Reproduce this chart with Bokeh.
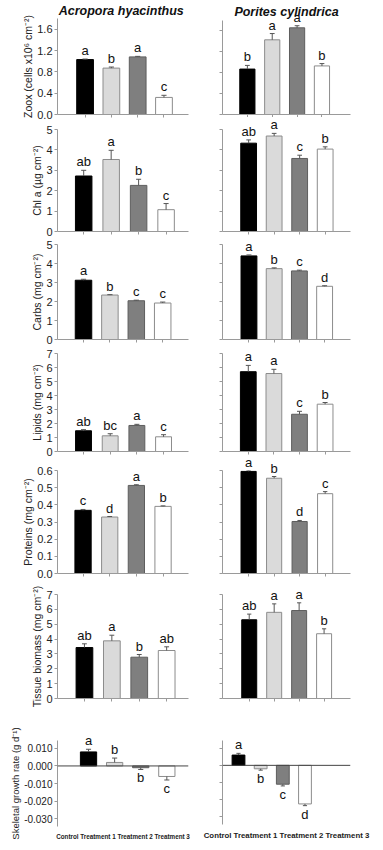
from bokeh.plotting import figure
from bokeh.layouts import column, row
from bokeh.models import (FixedTicker, NumeralTickFormatter, Span, ColumnDataSource, Range1d,
                          CustomLabelingPolicy)
from bokeh.core.properties import value
from bokeh.embed import file_html
from bokeh.resources import INLINE

# ---------------- data ----------------
treatments = ["Control", "Treatment 1", "Treatment 2", "Treatment 3"]
species = ["Acropora  hyacinthus", "Porites cylindrica"]
bar_fill = ["#000000", "#dadada", "#7f7f7f", "#ffffff"]
bar_line = ["#000000", "#8c8c8c", "#5e5e5e", "#8c8c8c"]

y_labels = ["Zoox (cells x10\u2076 cm\u207b\u00b2)", "Chl a (\u00b5g cm\u207b\u00b2)", "Carbs (mg cm\u207b\u00b2)",
            "Lipids (mg cm\u207b\u00b2)", "Proteins (mg cm\u207b\u00b2)", "Tissue biomass (mg cm\u207b\u00b2)",
            "Skeletal growth rate (g d\u207b\u00b9)"]

zoox_acro = [1.03, 0.87, 1.08, 0.32]
zoox_acro_err = [0.01, 0.02, 0.01, 0.04]
zoox_acro_let = ["a", "b", "a", "c"]
zoox_pori = [0.87, 1.43, 1.66, 0.93]
zoox_pori_err = [0.07, 0.12, 0.04, 0.045]
zoox_pori_let = ["b", "a", "a", "b"]

chl_acro = [2.72, 3.53, 2.26, 1.07]
chl_acro_err = [0.28, 0.45, 0.30, 0.30]
chl_acro_let = ["ab", "a", "b", "c"]
chl_pori = [4.33, 4.68, 3.58, 4.04]
chl_pori_err = [0.16, 0.13, 0.16, 0.11]
chl_pori_let = ["ab", "a", "c", "b"]

carbs_acro = [3.12, 2.34, 2.04, 1.92]
carbs_acro_err = [0.05, 0.02, 0.03, 0.05]
carbs_acro_let = ["a", "b", "c", "c"]
carbs_pori = [4.40, 3.73, 3.61, 2.80]
carbs_pori_err = [0.05, 0.04, 0.04, 0.03]
carbs_pori_let = ["a", "b", "c", "d"]

lipids_acro = [1.48, 1.12, 1.86, 1.05]
lipids_acro_err = [0.08, 0.15, 0.08, 0.15]
lipids_acro_let = ["ab", "bc", "a", "c"]
lipids_pori = [5.70, 5.57, 2.66, 3.38]
lipids_pori_err = [0.45, 0.30, 0.21, 0.12]
lipids_pori_let = ["a", "a", "c", "b"]

prot_acro = [0.368, 0.329, 0.513, 0.391]
prot_acro_err = [0.005, 0.003, 0.004, 0.003]
prot_acro_let = ["c", "d", "a", "b"]
prot_pori = [0.595, 0.555, 0.303, 0.465]
prot_pori_err = [0.005, 0.010, 0.006, 0.012]
prot_pori_let = ["a", "b", "d", "c"]

tissue_acro = [3.43, 3.88, 2.78, 3.23]
tissue_acro_err = [0.25, 0.38, 0.18, 0.25]
tissue_acro_let = ["ab", "a", "b", "ab"]
tissue_pori = [5.30, 5.80, 5.92, 4.36]
tissue_pori_err = [0.38, 0.57, 0.52, 0.33]
tissue_pori_let = ["ab", "a", "a", "b"]

growth_acro = [0.008, 0.002, -0.001, -0.006]
growth_acro_err = [0.0015, 0.0025, 0.001, 0.002]
growth_acro_let = ["a", "b", "b", "c"]
growth_pori = [0.006, -0.002, -0.011, -0.0225]
growth_pori_err = [0.001, 0.0008, 0.001, 0.001]
growth_pori_let = ["a", "b", "c", "d"]

y_ranges = [(0, 1.8), (0, 5), (0, 5), (0, 7), (0, 0.6), (0, 7), (-0.0345, 0.0145)]
y_ticks = [[0, 0.4, 0.8, 1.2, 1.6], [0, 1, 2, 3, 4, 5], [0, 1, 2, 3, 4, 5], [0, 1, 2, 3, 4, 5, 6, 7],
           [0, 0.1, 0.2, 0.3, 0.4, 0.5, 0.6], [0, 1, 2, 3, 4, 5, 6, 7], [-0.03, -0.02, -0.01, 0, 0.01]]
y_formats = ["0.0", "0", "0", "0", "0.0", "0", "0.000"]

rows_data = [
    ((zoox_acro, zoox_acro_err, zoox_acro_let), (zoox_pori, zoox_pori_err, zoox_pori_let)),
    ((chl_acro, chl_acro_err, chl_acro_let), (chl_pori, chl_pori_err, chl_pori_let)),
    ((carbs_acro, carbs_acro_err, carbs_acro_let), (carbs_pori, carbs_pori_err, carbs_pori_let)),
    ((lipids_acro, lipids_acro_err, lipids_acro_let), (lipids_pori, lipids_pori_err, lipids_pori_let)),
    ((prot_acro, prot_acro_err, prot_acro_let), (prot_pori, prot_pori_err, prot_pori_let)),
    ((tissue_acro, tissue_acro_err, tissue_acro_let), (tissue_pori, tissue_pori_err, tissue_pori_let)),
    ((growth_acro, growth_acro_err, growth_acro_let), (growth_pori, growth_pori_err, growth_pori_let)),
]

# ---------------- layout (page pixels) ----------------
# vertical per column: fig_top, frame_top, frame_bottom, fig_bottom
v_left = [(0, 18, 114, 121), (121, 129, 231, 237), (237, 244, 339, 346), (346, 353, 451, 458),
          (458, 470, 573, 583), (583, 594, 698, 710), (710, 740, 826, 842)]
v_right = [(0, 18, 114, 117), (117, 129, 231, 236), (236, 244, 339, 345), (345, 353, 451, 455),
           (455, 470, 573, 583), (583, 594, 698, 710), (710, 740, 826, 842)]
# horizontal: (frame_left, frame_right, first_bar_center, spacing, bar_px) for left / right panels
h_left = [(57, 190, 85, 26.7, 17), (57, 192, 84, 28.3, 17), (57, 188, 83, 26.4, 16.5), (57, 193, 84, 27.7, 16.5),
          (57, 198, 84.5, 28.7, 17.5), (57, 198, 86, 29.5, 18), (57, 190, 88.5, 26.5, 16.5)]
h_right = [(218, 357, 245, 27.0, 16.5), (218, 360, 247, 28.3, 17.5), (217, 350, 244.5, 26.2, 16.5),
           (218, 352, 245, 26.8, 16.5), (220, 372, 251, 30.3, 18), (222, 380, 255, 30.8, 18.5),
           (218, 378, 238, 27.7, 16)]
title_standoff = [1, 4]
xlabel_size = ["6.3px", "7.8px"]
SPLIT = 200
PAGE_W = 383
FONT = "Liberation Sans"
AXIS_COL = "#9a9a9a"


def no_labels():
    return CustomLabelingPolicy(code="return new Set()")


def panel(ri, ci):
    vals, errs, lets = rows_data[ri][ci]
    fig_top, f_top, f_bot, fig_bot = (v_left if ci == 0 else v_right)[ri]
    f_l, f_r, first, sp, bpx = (h_left if ci == 0 else h_right)[ri]
    fig_l, fig_r = (0, SPLIT) if ci == 0 else (SPLIT, PAGE_W)
    x0 = (f_l - first) / sp
    x1 = (f_r - first) / sp
    p = figure(width=fig_r - fig_l, height=fig_bot - fig_top,
               min_border_left=f_l - fig_l, min_border_right=fig_r - f_r,
               min_border_top=f_top - fig_top, min_border_bottom=fig_bot - f_bot,
               x_range=Range1d(x0, x1), y_range=Range1d(*y_ranges[ri]),
               output_backend="svg", toolbar_location=None, tools="")
    p.outline_line_color = None
    p.xgrid.visible = False
    p.ygrid.visible = False
    p.background_fill_color = "white"
    p.border_fill_color = "white"

    if ri == 0:
        p.title.text = species[ci]
        p.title.align = "center"
        p.title.text_font = FONT
        p.title.text_font_size = "12.5px"
        p.title.text_font_style = "bold italic"
        p.title.text_color = "#111111"
        p.title.standoff = title_standoff[ci]

    xs = list(range(len(treatments)))
    w = bpx / sp
    cap = 2.6 / sp
    src = ColumnDataSource(dict(x=xs, top=vals, fill=bar_fill, line=bar_line))
    p.vbar(x="x", top="top", bottom=0, width=w, fill_color="fill", line_color="line",
           line_width=1, source=src)

    sgn = [1 if v >= 0 else -1 for v in vals]
    ends = [v + s * e for v, s, e in zip(vals, sgn, errs)]
    p.segment(x0=xs, y0=vals, x1=xs, y1=ends, line_color="#555555", line_width=1)
    p.segment(x0=[x - cap for x in xs], y0=ends, x1=[x + cap for x in xs], y1=ends,
              line_color="#555555", line_width=1)

    pos = [i for i in xs if sgn[i] > 0]
    neg = [i for i in xs if sgn[i] < 0]
    if pos:
        p.text(x=[xs[i] for i in pos], y=[ends[i] for i in pos], text=[lets[i] for i in pos],
               text_align="center", text_baseline="bottom", y_offset=-1,
               text_font=value(FONT), text_font_size=value("13px"), text_color="#111111", level="overlay")
    if neg:
        p.text(x=[xs[i] for i in neg], y=[ends[i] for i in neg], text=[lets[i] for i in neg],
               text_align="center", text_baseline="top", y_offset=1,
               text_font=value(FONT), text_font_size=value("13px"), text_color="#111111", level="overlay")

    last = ri == len(y_ranges) - 1
    # y axis
    ya = p.yaxis[0]
    ya.ticker = FixedTicker(ticks=y_ticks[ri])
    ya.formatter = NumeralTickFormatter(format=y_formats[ri])
    ya.axis_line_color = AXIS_COL
    ya.major_tick_line_color = AXIS_COL
    ya.minor_tick_line_color = None
    ya.major_tick_out = 3
    ya.major_tick_in = 0
    ya.major_label_text_font = FONT
    ya.major_label_text_color = "#222222"
    ya.major_label_text_font_size = "10px" if last else "11px"
    ya.major_label_standoff = 2
    if ci == 0:
        ya.axis_label = y_labels[ri]
        ya.axis_label_text_font = FONT
        ya.axis_label_text_font_style = "normal"
        ya.axis_label_text_font_size = "9.5px" if last else "10.5px"
        ya.axis_label_text_color = "#222222"
        ya.axis_label_standoff = 0
    else:
        ya.major_label_policy = no_labels()
        ya.major_label_text_font_size = "0px"
        ya.major_label_standoff = 0

    # x axis
    xa = p.xaxis[0]
    xa.ticker = FixedTicker(ticks=xs)
    xa.minor_tick_line_color = None
    xa.major_label_policy = no_labels()
    xa.major_label_text_font_size = "0px"
    xa.major_label_standoff = 0
    if last:
        xa.axis_line_color = None
        xa.major_tick_line_color = None
        xa.axis_label = " ".join(treatments)
        xa.axis_label_text_font = FONT
        xa.axis_label_text_font_style = "bold"
        xa.axis_label_text_font_size = xlabel_size[ci]
        xa.axis_label_text_color = "#222222"
        xa.axis_label_standoff = 0
        p.add_layout(Span(location=0, dimension="width", line_color="#444444", line_width=1))
    else:
        xa.axis_line_color = AXIS_COL
        xa.major_tick_line_color = AXIS_COL
        xa.major_tick_out = 3
        xa.major_tick_in = 0
    return p


left_col = column(*[panel(ri, 0) for ri in range(len(y_ranges))])
right_col = column(*[panel(ri, 1) for ri in range(len(y_ranges))])
layout = row(left_col, right_col)
open("out.html", "w").write(file_html(layout, INLINE))
